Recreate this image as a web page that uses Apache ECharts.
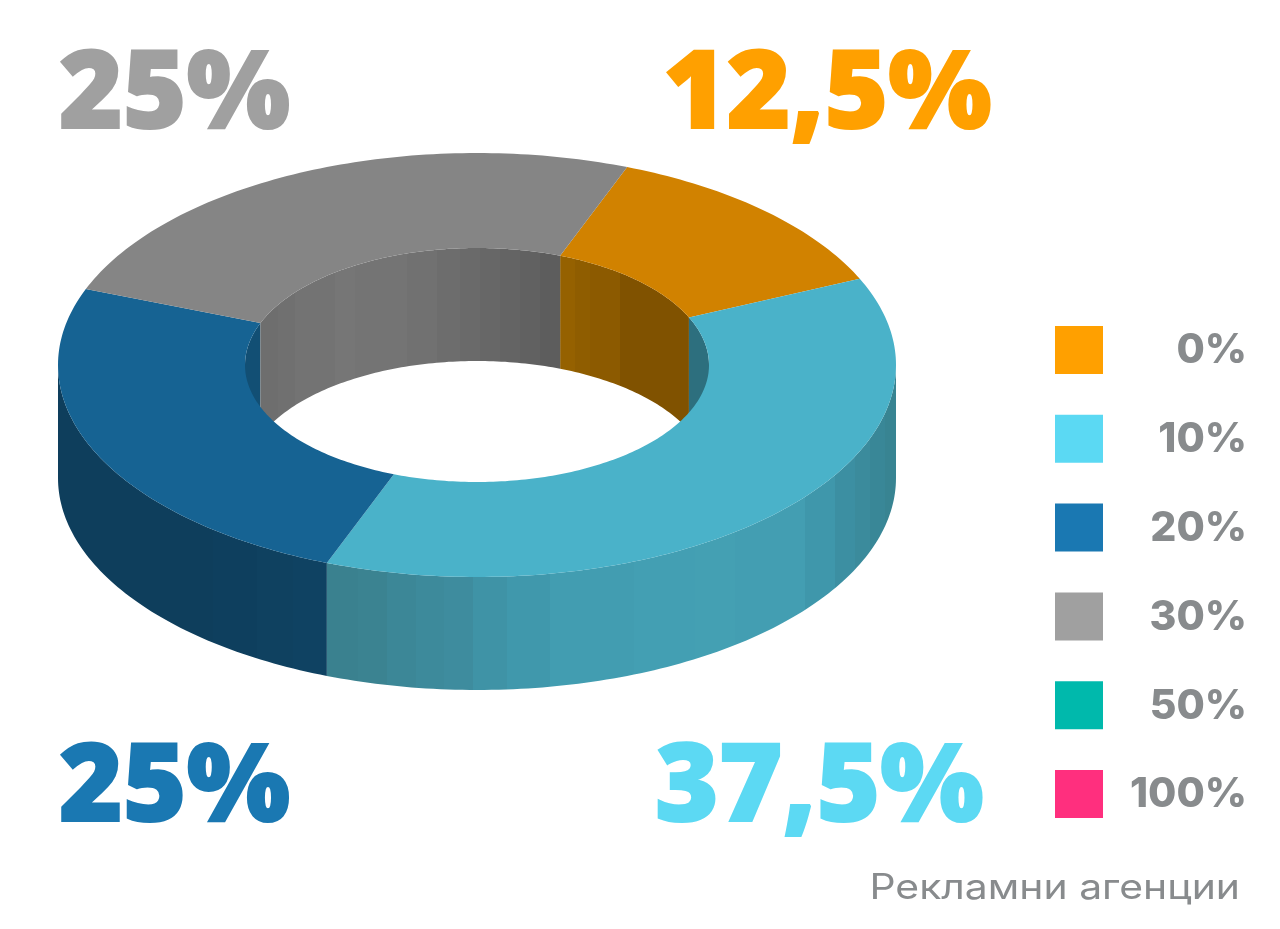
<!DOCTYPE html>
<html><head><meta charset="utf-8">
<style>html,body{margin:0;padding:0;background:#fff}#c{width:1280px;height:929px}</style>
<script src="https://cdn.jsdelivr.net/npm/echarts@6/dist/echarts.min.js"></script>
</head><body><div id="c"></div>
<script>
// ---- data ----
const shares = [12.5, 37.5, 25, 25];
const legendLabels = ['0%', '10%', '20%', '30%', '50%', '100%'];
const caption = 'Рекламни агенции';

// ---- styles ----
const labelColors = ['#FFA000', '#5CD9F3', '#1A78B2', '#A0A0A0'];
const topColors = ['#D18200', '#4AB2C9', '#166393', '#858585'];
const legendColors = ['#FFA000', '#5BD9F3', '#1A78B2', '#A0A0A0', '#00B9AC', '#FF2F7E'];
const labelPos = [[663, 97], [655, 790], [59, 790], [59, 97]];
const outerBands = [
  [[57, '#0E3E5C'], [213, '#0E3F5E'], [257, '#0F4160'], [293, '#0F4262'], [327, '#0F4262']],
  [[327, '#3A818F'], [358, '#3B8391'], [387, '#3C8797'], [416, '#3D8A9B'], [444, '#3E8C9E'], [473, '#3F93A6'],
   [507, '#4098AC'], [550, '#429DB1'], [634, '#439FB3'], [695, '#44A0B3'], [735, '#439EB2'], [805, '#3F97AB'],
   [835, '#3C8FA2'], [855, '#3B8B9C'], [870, '#398797'], [885, '#388492'], [896, '#388492']]
];
const innerBands = [
  [[560, '#956100'], [575, '#8F5D00'], [590, '#8C5A00'], [620, '#805200'], [689, '#805200']],
  [[689, '#2D6F7E'], [709, '#2D6F7E']],
  [[245, '#124F74'], [260, '#124F74']],
  [[260, '#6E6E6E'], [278, '#707070'], [295, '#737373'], [335, '#767676'], [355, '#747474'],
   [407, '#717171'], [437, '#6D6D6D'], [460, '#6A6A6A'], [480, '#676767'], [500, '#646464'], [520, '#616161'],
   [540, '#5D5D5D'], [560, '#5D5D5D']]
];
const geo = {cx: 477, cy: 365, rx: 419, ry: 212, irx: 232, iry: 117, depth: 113, start: 21};

// ---- helpers ----
const chart = echarts.init(document.getElementById('c'), null, {renderer: 'canvas'});
const total = shares.reduce((a, b) => a + b, 0);
const ranges = [];
shares.reduce((acc, v) => { const e = acc + v / total * 360; ranges.push([acc, e]); return e; }, geo.start);

const pt = (a, rx, ry, dy) => {
  const t = a * Math.PI / 180;
  return [geo.cx + rx * Math.sin(t), geo.cy - ry * Math.cos(t) + dy];
};
const arc = (a, b, rx, ry, dy) => {
  const out = [], n = Math.max(2, Math.ceil(Math.abs(b - a)));
  for (let i = 0; i <= n; i++) out.push(pt(a + (b - a) * i / n, rx, ry, dy));
  return out;
};
const clip = (r, lo, hi) => {
  for (const k of [-360, 0, 360]) {
    const a = Math.max(r[0], lo + k), b = Math.min(r[1], hi + k);
    if (b > a) return [a, b];
  }
  return null;
};
const bandFill = bands => {
  const x0 = bands[0][0], x1 = bands[bands.length - 1][0], stops = [];
  bands.forEach((b, i) => {
    const o = (b[0] - x0) / (x1 - x0);
    if (i > 0) stops.push({offset: o, color: bands[i - 1][1]});
    stops.push({offset: o, color: b[1]});
  });
  return new echarts.graphic.LinearGradient(x0, 0, x1, 0, stops, true);
};
const wall = (r, rx, ry, bands) => ({
  type: 'polygon',
  shape: {points: arc(r[0], r[1], rx, ry, 0).concat(arc(r[1], r[0], rx, ry, geo.depth))},
  style: {fill: bandFill(bands)}
});
const shareData = shares.map(v => [v]);
const noneBase = {type: 'custom', coordinateSystem: 'none', silent: true, animation: false, clip: false};

// ---- chart ----
chart.setOption({
  animation: false,
  backgroundColor: '#fff',
  series: [
    Object.assign({}, noneBase, {
      name: 'outer wall', z: 1, data: shareData,
      renderItem: (p) => {
        const i = p.dataIndex;
        const r = clip(ranges[i], 90, 270);
        if (!r) return {type: 'group', children: []};
        const bands = i === 1 ? outerBands[1] : outerBands[0];
        return wall(r, geo.rx, geo.ry, bands);
      }
    }),
    Object.assign({}, noneBase, {
      name: 'inner wall', z: 2, data: shareData,
      renderItem: (p) => {
        const i = p.dataIndex;
        const r = clip(ranges[i], 270, 450);
        if (!r) return {type: 'group', children: []};
        return wall(r, geo.irx, geo.iry, innerBands[i]);
      }
    }),
    Object.assign({}, noneBase, {
      name: 'top', z: 3, data: shareData,
      renderItem: (p) => {
        const r = ranges[p.dataIndex];
        return {
          type: 'polygon',
          shape: {points: arc(r[0], r[1], geo.rx, geo.ry, 0).concat(arc(r[1], r[0], geo.irx, geo.iry, 0))},
          style: {fill: topColors[p.dataIndex]}
        };
      }
    }),
    Object.assign({}, noneBase, {
      name: 'value labels', z: 4, data: shareData,
      renderItem: (p, api) => {
        const i = p.dataIndex;
        return {
          type: 'text',
          x: labelPos[i][0], y: labelPos[i][1],
          style: {
            text: String(api.value(0)).replace('.', ',') + '%',
            fill: labelColors[i],
            stroke: labelColors[i], lineWidth: 2, lineJoin: 'miter',
            font: '800 109px "Open Sans"',
            align: 'left', verticalAlign: 'middle'
          }
        };
      }
    }),
    Object.assign({}, noneBase, {
      name: 'legend', z: 4, data: legendLabels.map((l, i) => [i]),
      renderItem: (p) => {
        const i = p.dataIndex, top = 326 + i * 88.8;
        return {
          type: 'group',
          children: [
            {type: 'rect', shape: {x: 1055, y: top, width: 48, height: 48}, style: {fill: legendColors[i]}},
            {type: 'text', x: 1247, y: top + 25, style: {
              text: legendLabels[i], fill: '#888B8D', font: '800 41px Inter',
              align: 'right', verticalAlign: 'middle'}}
          ]
        };
      }
    }),
    Object.assign({}, noneBase, {
      name: 'caption', z: 4, data: [[0]],
      renderItem: () => ({
        type: 'text', x: 1240, y: 888, scaleX: 1.168,
        style: {text: caption, fill: '#888B8D', font: '400 35px Inter', align: 'right', verticalAlign: 'middle'}
      })
    })
  ]
});
</script></body></html>
